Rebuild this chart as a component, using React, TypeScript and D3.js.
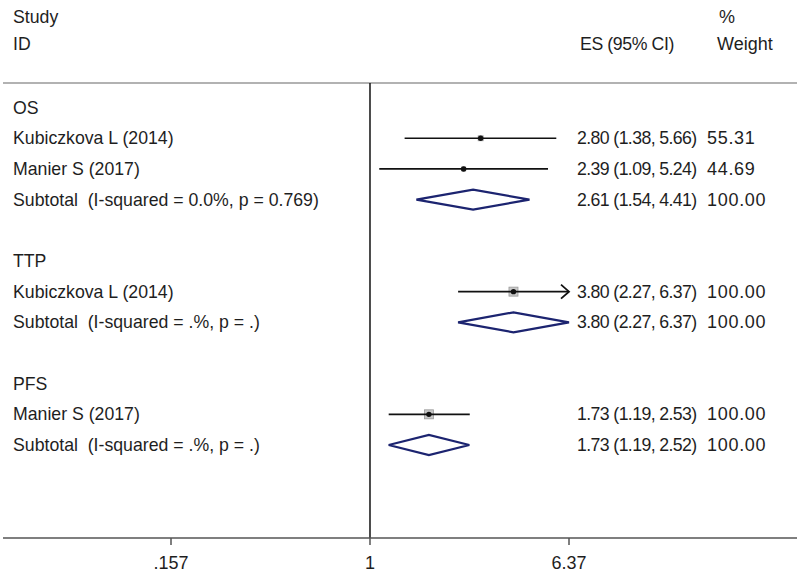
import React from "react";
import * as d3 from "d3";

const rowLabels = [
  "OS",
  "Kubiczkova L (2014)",
  "Manier S (2017)",
  "Subtotal  (I-squared = 0.0%, p = 0.769)",
  "",
  "TTP",
  "Kubiczkova L (2014)",
  "Subtotal  (I-squared = .%, p = .)",
  "",
  "PFS",
  "Manier S (2017)",
  "Subtotal  (I-squared = .%, p = .)",
];
const rowTypes = ["group", "study", "study", "subtotal", "blank", "group", "study", "subtotal", "blank", "group", "study", "subtotal"];
const esValues = [NaN, 2.8, 2.39, 2.61, NaN, NaN, 3.8, 3.8, NaN, NaN, 1.73, 1.73];
const loValues = [NaN, 1.38, 1.09, 1.54, NaN, NaN, 2.27, 2.27, NaN, NaN, 1.19, 1.19];
const hiValues = [NaN, 5.66, 5.24, 4.41, NaN, NaN, 6.37, 6.37, NaN, NaN, 2.53, 2.52];
const weightValues = [NaN, 55.31, 44.69, 100, NaN, NaN, 100, 100, NaN, NaN, 100, 100];
const tickValues = [0.157, 1, 6.37];
const tickLabels = [".157", "1", "6.37"];

const W = 800;
const H = 573;
const FONT = "Arial, 'Liberation Sans', Helvetica, sans-serif";
const FS = 17.7;
const FS_W = 18;

export default function App() {
  const x = d3.scaleLog().domain([0.157, 6.37]).range([171, 569]);
  const y = d3.scaleLinear().domain([0, 11]).range([107.6, 445]);
  const axisY = 538;
  const topLineY = 83;
  const navy = "#1c2470";
  const textColor = "#1e1e1e";

  return (
    <svg width={W} height={H} style={{ position: "absolute", left: 0, top: 0, background: "#fff" }} fontFamily={FONT}>
      <rect x={0} y={0} width={W} height={H} fill="#fff" />
      {/* headers */}
      <g fontSize={FS} fill={textColor} dominantBaseline="central">
        <text x={13} y={17}>Study</text>
        <text x={13} y={44}>ID</text>
        <text x={580} y={44} letterSpacing={-0.4}>ES (95% CI)</text>
        <text x={719} y={17} fontSize={FS_W}>%</text>
        <text x={717} y={44} fontSize={FS_W}>Weight</text>
      </g>
      <line x1={3} x2={797} y1={topLineY} y2={topLineY} stroke="#999" strokeWidth={1.5} />
      <line x1={x(1)} x2={x(1)} y1={topLineY} y2={axisY} stroke="#111" strokeWidth={1.5} />
      {/* rows */}
      {rowLabels.map((lab, i) => {
        const yy = y(i);
        const t = rowTypes[i];
        const items: React.ReactNode[] = [];
        if (lab) {
          items.push(
            <text key="l" x={13} y={yy} fontSize={FS} fill={textColor} dominantBaseline="central" style={{ whiteSpace: "pre" }}>
              {lab}
            </text>
          );
        }
        if (t === "study" || t === "subtotal") {
          const es = esValues[i], lo = loValues[i], hi = hiValues[i];
          items.push(
            <text key="es" x={577} y={yy} fontSize={FS} letterSpacing={-0.6} fill={textColor} dominantBaseline="central">
              {`${es.toFixed(2)} (${lo.toFixed(2)}, ${hi.toFixed(2)})`}
            </text>
          );
          items.push(
            <text key="w" x={707} y={yy} fontSize={FS_W} letterSpacing={0.7} fill={textColor} dominantBaseline="central">
              {weightValues[i].toFixed(2)}
            </text>
          );
        }
        if (t === "study") {
          const es = esValues[i], lo = loValues[i], hi = hiValues[i];
          const xmax = x.domain()[1];
          const hiC = Math.min(hi, xmax);
          const side = 9 * (weightValues[i] / 100);
          items.push(
            <rect key="box" x={x(es) - side / 2} y={yy - side / 2} width={side} height={side} fill="#c8c8c8" stroke="#999" strokeWidth={0.8} />
          );
          items.push(
            <line key="ci" x1={x(lo)} x2={x(hiC)} y1={yy} y2={yy} stroke="#111" strokeWidth={1.7} />
          );
          if (hi >= xmax) {
            items.push(
              <path key="arr" d={`M${x(hiC) - 8},${yy - 7} L${x(hiC)},${yy} L${x(hiC) - 8},${yy + 7}`} fill="none" stroke="#111" strokeWidth={1.8} />
            );
          }
          items.push(<circle key="dot" cx={x(es)} cy={yy} r={2.7} fill="#111" />);
        }
        if (t === "subtotal") {
          const es = esValues[i], lo = loValues[i], hi = hiValues[i];
          const h = 10;
          items.push(
            <path key="dia" d={`M${x(lo)},${yy} L${x(es)},${yy - h} L${x(hi)},${yy} L${x(es)},${yy + h} Z`} fill="#fff" stroke={navy} strokeWidth={2.2} />
          );
        }
        return <g key={i}>{items}</g>;
      })}
      {/* axis */}
      <line x1={3} x2={797} y1={axisY} y2={axisY} stroke="#555" strokeWidth={1.5} />
      {tickValues.map((v, i) => (
        <g key={i}>
          <line x1={x(v)} x2={x(v)} y1={axisY} y2={axisY + 7} stroke="#555" strokeWidth={1.5} />
          <text x={x(v)} y={563} fontSize={FS_W} fill={textColor} textAnchor="middle" dominantBaseline="central">
            {tickLabels[i]}
          </text>
        </g>
      ))}
    </svg>
  );
}
